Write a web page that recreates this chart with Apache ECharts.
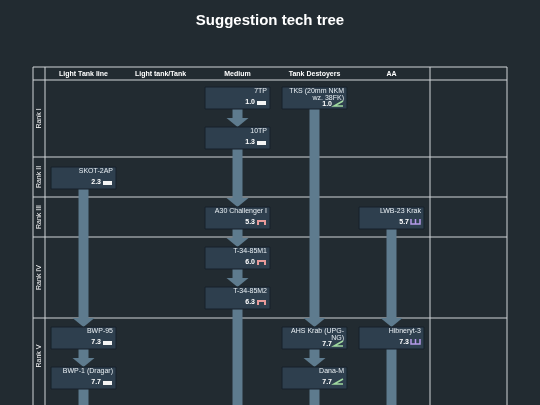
<!DOCTYPE html><html><head><meta charset="utf-8">
<script src="https://cdn.jsdelivr.net/npm/echarts@6/dist/echarts.min.js"></script>
<style>html,body{margin:0;background:#222b31}#c{width:540px;height:405px}</style></head><body><div id="c"></div>
<script>
const columns = ["Light Tank line","Light tank/Tank","Medium","Tank Destoyers","AA",""];
const ranks = ["Rank I","Rank II","Rank III","Rank IV","Rank V"];
const rankBounds = [0,1.925,2.925,3.925,5.95,8.125];
const names = ["7TP","10TP","SKOT-2AP","A30 Challenger I","T-34-85M1","T-34-85M2","BWP-95","BWP-1 (Dragar)","TKS (20mm NKM\nwz. 38FK)","AHS Krab (UPG-\nNG)","Dana-M","LWB-23 Krak","Hibneryt-3"];
const cols  = [2,2,0,2,2,2,0,0,3,3,3,4,4];
const rows  = [0,1,2,3,4,5,6,7,0,6,7,3,6];
const brs   = ["1.0","1.3","2.3","5.3","6.0","6.3","7.3","7.7","1.0","7.7","7.7","5.7","7.3"];
const types = ["light","light","light","medium","medium","medium","light","light","td","td","td","aa","aa"];
const links = [[0,1],[1,3],[3,4],[4,5],[5,-1],[2,6],[6,7],[7,-1],[8,9],[9,10],[10,-1],[11,12],[12,-1]];
const chart = echarts.init(document.getElementById('c'));
const BW=0.844, BH=0.55, OFF=0.175;
function boxItem(p, api){
  const i=p.dataIndex;
  const tl=api.coord([cols[i]+0.5-BW/2, rows[i]+OFF]);
  const br=api.coord([cols[i]+0.5+BW/2, rows[i]+OFF+BH]);
  const w=br[0]-tl[0], h=br[1]-tl[1];
  const two=names[i].indexOf('\n')>=0;
  const by=two? br[1]-1 : br[1]-3;
  const ix=br[0]-13, iy=by-5;
  const icon=[];
  const t=types[i];
  if(t==='light') icon.push({type:'rect',shape:{x:ix,y:iy,width:9,height:4},style:{fill:'#f4f4f4'}});
  if(t==='medium') icon.push({type:'rect',shape:{x:ix,y:iy-1,width:9,height:5},style:{fill:'#e89a9a'}},{type:'rect',shape:{x:ix+2,y:iy+1,width:5,height:3},style:{fill:'#2e3f4e'}});
  if(t==='td') icon.push({type:'polyline',shape:{points:[[ix+9,iy-2],[ix,iy+3],[ix+9,iy+3]]},style:{stroke:'#9fd89f',lineWidth:1.5,fill:null}});
  if(t==='aa') icon.push({type:'polyline',shape:{points:[[ix,iy-2],[ix,iy+3],[ix+9,iy+3],[ix+9,iy-2]]},style:{stroke:'#b59ae8',lineWidth:1.5,fill:null}},{type:'line',shape:{x1:ix+4.5,y1:iy-2,x2:ix+4.5,y2:iy+3},style:{stroke:'#b59ae8',lineWidth:1.5}});
  return {type:'group',children:[
    {type:'rect',shape:{x:tl[0],y:tl[1],width:w,height:h},style:{fill:'#2e3f4e',stroke:'#17212a',lineWidth:1}},
    {type:'text',style:{x:br[0]-3,y:tl[1]+1,text:names[i],align:'right',verticalAlign:'top',fill:'#e8eef2',font:'7px "Liberation Sans", Arial',lineHeight:7}},
    {type:'text',style:{x:br[0]-15,y:by,text:brs[i],align:'right',verticalAlign:'bottom',fill:'#ffffff',font:'bold 7px "Liberation Sans", Arial'}}
  ].concat(icon)};
}
function arrowItem(p, api){
  const [a,b]=links[p.dataIndex];
  const x=cols[a]+0.5;
  const y0=rows[a]+OFF+BH;
  const y1= b<0 ? 8.6 : rows[b]+OFF;
  const s=api.coord([x,y0]), e=api.coord([x,y1]);
  const head=9;
  return {type:'group',children:[
    {type:'rect',shape:{x:s[0]-5,y:s[1],width:10,height:e[1]-s[1]-head},style:{fill:'#5e7b8e'}},
    {type:'polygon',shape:{points:[[s[0]-11,e[1]-head],[s[0]+11,e[1]-head],[s[0],e[1]]]},style:{fill:'#5e7b8e'}}
  ]};
}
function frameItem(p, api){
  if(p.dataIndex>0) return null;
  const L=api.coord([-0.156,-0.325]), R=api.coord([6,8.125]);
  const x45=api.coord([0,0])[0], x430=api.coord([5,0])[0];
  const st={stroke:'#d0d5d8',lineWidth:1};
  const ch=[];
  ch.push({type:'line',shape:{x1:L[0],y1:L[1],x2:R[0],y2:L[1]},style:st});
  [L[0],x45,x430,R[0]].forEach(x=>ch.push({type:'line',shape:{x1:x,y1:L[1],x2:x,y2:R[1]},style:st}));
  rankBounds.slice(0,5).forEach(v=>{const y=api.coord([0,v])[1];ch.push({type:'line',shape:{x1:L[0],y1:y,x2:R[0],y2:y},style:st});});
  columns.forEach((c,i)=>{const q=api.coord([i+0.5,-0.16]);ch.push({type:'text',style:{x:q[0],y:q[1],text:c,align:'center',verticalAlign:'middle',fill:'#fff',font:'bold 7px "Liberation Sans", Arial'}});});
  ranks.forEach((r,i)=>{const ya=api.coord([0,rankBounds[i]])[1], yb=api.coord([0,rankBounds[i+1]])[1];const yb2=i==4?api.coord([0,rankBounds[i]+1.9])[1]:yb;
    ch.push({type:'text',x:(L[0]+x45)/2,y:(ya+yb2)/2,rotation:Math.PI/2,style:{x:0,y:0,text:r,align:'center',verticalAlign:'middle',fill:'#fff',font:'7px "Liberation Sans", Arial'}});});
  return {type:'group',children:ch};
}
chart.setOption({
  backgroundColor:'#222b31',
  animation:false,
  title:{text:'Suggestion tech tree',left:'center',top:8,textStyle:{color:'#fff',fontSize:15,fontWeight:'bold',fontFamily:'"Liberation Sans", Arial'}},
  grid:{left:33,right:33,top:67,bottom:0},
  xAxis:{type:'value',min:-0.156,max:6,show:false},
  yAxis:{type:'value',min:-0.325,max:8.125,inverse:true,show:false},
  series:[
    {type:'custom',renderItem:frameItem,data:[0],clip:false,silent:true,z:1},
    {type:'custom',renderItem:arrowItem,data:links.map((l,i)=>i),clip:true,silent:true,z:2},
    {type:'custom',renderItem:boxItem,data:names.map((n,i)=>i),clip:false,silent:true,z:3}
  ]
});
</script></body></html>
